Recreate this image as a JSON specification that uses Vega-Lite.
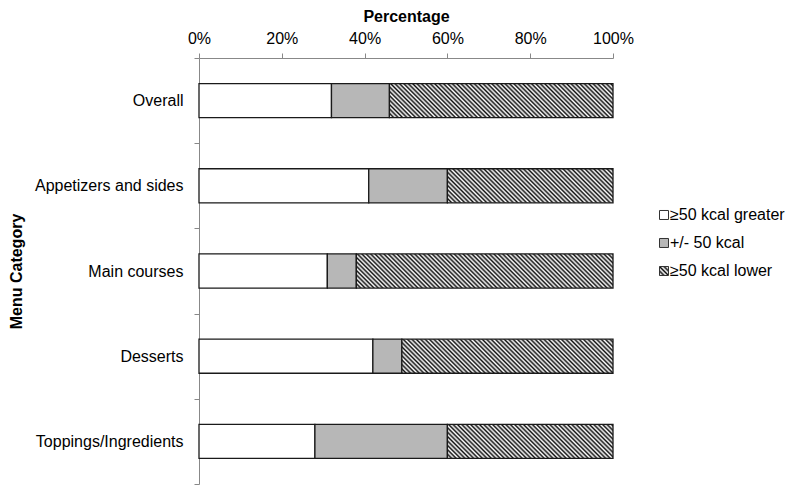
{
"$schema": "https://vega.github.io/schema/vega-lite/v6.json",
"padding": {"left": 8, "top": 8, "right": 0, "bottom": 0},
"background": "white",
"spacing": 20,
"config": {"font": "Liberation Sans", "view": {"stroke": null}},
"datasets": {
"bars": [
{"Category": "Overall", "Type": "≥50 kcal greater", "Seg": 1, "Pct": 32},
{"Category": "Overall", "Type": "+/- 50 kcal", "Seg": 2, "Pct": 14},
{"Category": "Overall", "Type": "≥50 kcal lower", "Seg": 3, "Pct": 54},
{"Category": "Appetizers and sides", "Type": "≥50 kcal greater", "Seg": 1, "Pct": 41},
{"Category": "Appetizers and sides", "Type": "+/- 50 kcal", "Seg": 2, "Pct": 19},
{"Category": "Appetizers and sides", "Type": "≥50 kcal lower", "Seg": 3, "Pct": 40},
{"Category": "Main courses", "Type": "≥50 kcal greater", "Seg": 1, "Pct": 31},
{"Category": "Main courses", "Type": "+/- 50 kcal", "Seg": 2, "Pct": 7},
{"Category": "Main courses", "Type": "≥50 kcal lower", "Seg": 3, "Pct": 62},
{"Category": "Desserts", "Type": "≥50 kcal greater", "Seg": 1, "Pct": 42},
{"Category": "Desserts", "Type": "+/- 50 kcal", "Seg": 2, "Pct": 7},
{"Category": "Desserts", "Type": "≥50 kcal lower", "Seg": 3, "Pct": 51},
{"Category": "Toppings/Ingredients", "Type": "≥50 kcal greater", "Seg": 1, "Pct": 28},
{"Category": "Toppings/Ingredients", "Type": "+/- 50 kcal", "Seg": 2, "Pct": 32},
{"Category": "Toppings/Ingredients", "Type": "≥50 kcal lower", "Seg": 3, "Pct": 40}
],
"legend": [
{"Type": "≥50 kcal greater", "Seg": 1},
{"Type": "+/- 50 kcal", "Seg": 2},
{"Type": "≥50 kcal lower", "Seg": 3}
]
},
"hconcat": [
{
"width": 414,
"height": 426,
"data": {"name": "bars"},
"mark": {"type": "bar", "stroke": "#1a1a1a", "strokeWidth": 1.3, "height": {"band": 0.4}},
"encoding": {
"y": {"field": "Category", "type": "nominal",
 "sort": ["Overall", "Appetizers and sides", "Main courses", "Desserts", "Toppings/Ingredients"],
 "scale": {"paddingInner": 0, "paddingOuter": 0},
 "axis": {"title": "Menu Category", "titleFontSize": 16, "titleFontWeight": "bold", "titleColor": "#000", "titlePadding": 10,
  "labelFontSize": 16, "labelColor": "#000", "labelPadding": 11, "tickSize": 5, "tickBand": "extent",
  "tickColor": "#888", "domainColor": "#888", "grid": false}},
"x": {"field": "Pct", "type": "quantitative", "stack": "zero", "scale": {"domain": [0, 100]},
 "axis": {"orient": "top", "title": "Percentage", "titleFontSize": 16, "titleFontWeight": "bold", "titleColor": "#000", "titlePadding": 6,
  "values": [0, 20, 40, 60, 80, 100], "labelExpr": "datum.value + '%'", "labelFontSize": 16, "labelColor": "#000",
  "labelPadding": 7, "labelFlush": false, "tickSize": 5, "tickColor": "#888", "domainColor": "#888", "grid": false}},
"order": {"field": "Seg", "type": "quantitative"},
"fill": {
 "condition": [
  {"test": "datum.Seg == 3 && datum.Category == 'Overall'", "value": {"gradient": "linear", "x1": 0, "y1": 1, "x2": 1.9235, "y2": 0.7068, "stops": [
{"offset":0,"color":"#111"},{"offset":0.005,"color":"#fff"},{"offset":0.01,"color":"#111"},{"offset":0.015,"color":"#fff"},
{"offset":0.02,"color":"#111"},{"offset":0.025,"color":"#fff"},{"offset":0.03,"color":"#111"},{"offset":0.035,"color":"#fff"},
{"offset":0.04,"color":"#111"},{"offset":0.045,"color":"#fff"},{"offset":0.05,"color":"#111"},{"offset":0.055,"color":"#fff"},
{"offset":0.06,"color":"#111"},{"offset":0.065,"color":"#fff"},{"offset":0.07,"color":"#111"},{"offset":0.075,"color":"#fff"},
{"offset":0.08,"color":"#111"},{"offset":0.085,"color":"#fff"},{"offset":0.09,"color":"#111"},{"offset":0.095,"color":"#fff"},
{"offset":0.1,"color":"#111"},{"offset":0.105,"color":"#fff"},{"offset":0.11,"color":"#111"},{"offset":0.115,"color":"#fff"},
{"offset":0.12,"color":"#111"},{"offset":0.125,"color":"#fff"},{"offset":0.13,"color":"#111"},{"offset":0.135,"color":"#fff"},
{"offset":0.14,"color":"#111"},{"offset":0.145,"color":"#fff"},{"offset":0.15,"color":"#111"},{"offset":0.155,"color":"#fff"},
{"offset":0.16,"color":"#111"},{"offset":0.165,"color":"#fff"},{"offset":0.17,"color":"#111"},{"offset":0.175,"color":"#fff"},
{"offset":0.18,"color":"#111"},{"offset":0.185,"color":"#fff"},{"offset":0.19,"color":"#111"},{"offset":0.195,"color":"#fff"},
{"offset":0.2,"color":"#111"},{"offset":0.205,"color":"#fff"},{"offset":0.21,"color":"#111"},{"offset":0.215,"color":"#fff"},
{"offset":0.22,"color":"#111"},{"offset":0.225,"color":"#fff"},{"offset":0.23,"color":"#111"},{"offset":0.235,"color":"#fff"},
{"offset":0.24,"color":"#111"},{"offset":0.245,"color":"#fff"},{"offset":0.25,"color":"#111"},{"offset":0.255,"color":"#fff"},
{"offset":0.26,"color":"#111"},{"offset":0.265,"color":"#fff"},{"offset":0.27,"color":"#111"},{"offset":0.275,"color":"#fff"},
{"offset":0.28,"color":"#111"},{"offset":0.285,"color":"#fff"},{"offset":0.29,"color":"#111"},{"offset":0.295,"color":"#fff"},
{"offset":0.3,"color":"#111"},{"offset":0.305,"color":"#fff"},{"offset":0.31,"color":"#111"},{"offset":0.315,"color":"#fff"},
{"offset":0.32,"color":"#111"},{"offset":0.325,"color":"#fff"},{"offset":0.33,"color":"#111"},{"offset":0.335,"color":"#fff"},
{"offset":0.34,"color":"#111"},{"offset":0.345,"color":"#fff"},{"offset":0.35,"color":"#111"},{"offset":0.355,"color":"#fff"},
{"offset":0.36,"color":"#111"},{"offset":0.365,"color":"#fff"},{"offset":0.37,"color":"#111"},{"offset":0.375,"color":"#fff"},
{"offset":0.38,"color":"#111"},{"offset":0.385,"color":"#fff"},{"offset":0.39,"color":"#111"},{"offset":0.395,"color":"#fff"},
{"offset":0.4,"color":"#111"},{"offset":0.405,"color":"#fff"},{"offset":0.41,"color":"#111"},{"offset":0.415,"color":"#fff"},
{"offset":0.42,"color":"#111"},{"offset":0.425,"color":"#fff"},{"offset":0.43,"color":"#111"},{"offset":0.435,"color":"#fff"},
{"offset":0.44,"color":"#111"},{"offset":0.445,"color":"#fff"},{"offset":0.45,"color":"#111"},{"offset":0.455,"color":"#fff"},
{"offset":0.46,"color":"#111"},{"offset":0.465,"color":"#fff"},{"offset":0.47,"color":"#111"},{"offset":0.475,"color":"#fff"},
{"offset":0.48,"color":"#111"},{"offset":0.485,"color":"#fff"},{"offset":0.49,"color":"#111"},{"offset":0.495,"color":"#fff"},
{"offset":0.5,"color":"#111"},{"offset":0.505,"color":"#fff"},{"offset":0.51,"color":"#111"},{"offset":0.515,"color":"#fff"},
{"offset":0.52,"color":"#111"},{"offset":0.525,"color":"#fff"},{"offset":0.53,"color":"#111"},{"offset":0.535,"color":"#fff"},
{"offset":0.54,"color":"#111"},{"offset":0.545,"color":"#fff"},{"offset":0.55,"color":"#111"},{"offset":0.555,"color":"#fff"},
{"offset":0.56,"color":"#111"},{"offset":0.565,"color":"#fff"},{"offset":0.57,"color":"#111"},{"offset":0.575,"color":"#fff"},
{"offset":0.58,"color":"#111"},{"offset":0.585,"color":"#fff"},{"offset":0.59,"color":"#111"}]}},
  {"test": "datum.Seg == 3 && (datum.Category == 'Appetizers and sides' || datum.Category == 'Toppings/Ingredients')", "value": {"gradient": "linear", "x1": 0, "y1": 1, "x2": 2.5491, "y2": 0.4754, "stops": [
{"offset":0,"color":"#111"},{"offset":0.005,"color":"#fff"},{"offset":0.01,"color":"#111"},{"offset":0.015,"color":"#fff"},
{"offset":0.02,"color":"#111"},{"offset":0.025,"color":"#fff"},{"offset":0.03,"color":"#111"},{"offset":0.035,"color":"#fff"},
{"offset":0.04,"color":"#111"},{"offset":0.045,"color":"#fff"},{"offset":0.05,"color":"#111"},{"offset":0.055,"color":"#fff"},
{"offset":0.06,"color":"#111"},{"offset":0.065,"color":"#fff"},{"offset":0.07,"color":"#111"},{"offset":0.075,"color":"#fff"},
{"offset":0.08,"color":"#111"},{"offset":0.085,"color":"#fff"},{"offset":0.09,"color":"#111"},{"offset":0.095,"color":"#fff"},
{"offset":0.1,"color":"#111"},{"offset":0.105,"color":"#fff"},{"offset":0.11,"color":"#111"},{"offset":0.115,"color":"#fff"},
{"offset":0.12,"color":"#111"},{"offset":0.125,"color":"#fff"},{"offset":0.13,"color":"#111"},{"offset":0.135,"color":"#fff"},
{"offset":0.14,"color":"#111"},{"offset":0.145,"color":"#fff"},{"offset":0.15,"color":"#111"},{"offset":0.155,"color":"#fff"},
{"offset":0.16,"color":"#111"},{"offset":0.165,"color":"#fff"},{"offset":0.17,"color":"#111"},{"offset":0.175,"color":"#fff"},
{"offset":0.18,"color":"#111"},{"offset":0.185,"color":"#fff"},{"offset":0.19,"color":"#111"},{"offset":0.195,"color":"#fff"},
{"offset":0.2,"color":"#111"},{"offset":0.205,"color":"#fff"},{"offset":0.21,"color":"#111"},{"offset":0.215,"color":"#fff"},
{"offset":0.22,"color":"#111"},{"offset":0.225,"color":"#fff"},{"offset":0.23,"color":"#111"},{"offset":0.235,"color":"#fff"},
{"offset":0.24,"color":"#111"},{"offset":0.245,"color":"#fff"},{"offset":0.25,"color":"#111"},{"offset":0.255,"color":"#fff"},
{"offset":0.26,"color":"#111"},{"offset":0.265,"color":"#fff"},{"offset":0.27,"color":"#111"},{"offset":0.275,"color":"#fff"},
{"offset":0.28,"color":"#111"},{"offset":0.285,"color":"#fff"},{"offset":0.29,"color":"#111"},{"offset":0.295,"color":"#fff"},
{"offset":0.3,"color":"#111"},{"offset":0.305,"color":"#fff"},{"offset":0.31,"color":"#111"},{"offset":0.315,"color":"#fff"},
{"offset":0.32,"color":"#111"},{"offset":0.325,"color":"#fff"},{"offset":0.33,"color":"#111"},{"offset":0.335,"color":"#fff"},
{"offset":0.34,"color":"#111"},{"offset":0.345,"color":"#fff"},{"offset":0.35,"color":"#111"},{"offset":0.355,"color":"#fff"},
{"offset":0.36,"color":"#111"},{"offset":0.365,"color":"#fff"},{"offset":0.37,"color":"#111"},{"offset":0.375,"color":"#fff"},
{"offset":0.38,"color":"#111"},{"offset":0.385,"color":"#fff"},{"offset":0.39,"color":"#111"},{"offset":0.395,"color":"#fff"},
{"offset":0.4,"color":"#111"},{"offset":0.405,"color":"#fff"},{"offset":0.41,"color":"#111"},{"offset":0.415,"color":"#fff"},
{"offset":0.42,"color":"#111"},{"offset":0.425,"color":"#fff"},{"offset":0.43,"color":"#111"},{"offset":0.435,"color":"#fff"},
{"offset":0.44,"color":"#111"},{"offset":0.445,"color":"#fff"},{"offset":0.45,"color":"#111"},{"offset":0.455,"color":"#fff"},
{"offset":0.46,"color":"#111"}]}},
  {"test": "datum.Seg == 3 && datum.Category == 'Main courses'", "value": {"gradient": "linear", "x1": 0, "y1": 1, "x2": 1.6845, "y2": 0.7763, "stops": [
{"offset":0,"color":"#111"},{"offset":0.005,"color":"#fff"},{"offset":0.01,"color":"#111"},{"offset":0.015,"color":"#fff"},
{"offset":0.02,"color":"#111"},{"offset":0.025,"color":"#fff"},{"offset":0.03,"color":"#111"},{"offset":0.035,"color":"#fff"},
{"offset":0.04,"color":"#111"},{"offset":0.045,"color":"#fff"},{"offset":0.05,"color":"#111"},{"offset":0.055,"color":"#fff"},
{"offset":0.06,"color":"#111"},{"offset":0.065,"color":"#fff"},{"offset":0.07,"color":"#111"},{"offset":0.075,"color":"#fff"},
{"offset":0.08,"color":"#111"},{"offset":0.085,"color":"#fff"},{"offset":0.09,"color":"#111"},{"offset":0.095,"color":"#fff"},
{"offset":0.1,"color":"#111"},{"offset":0.105,"color":"#fff"},{"offset":0.11,"color":"#111"},{"offset":0.115,"color":"#fff"},
{"offset":0.12,"color":"#111"},{"offset":0.125,"color":"#fff"},{"offset":0.13,"color":"#111"},{"offset":0.135,"color":"#fff"},
{"offset":0.14,"color":"#111"},{"offset":0.145,"color":"#fff"},{"offset":0.15,"color":"#111"},{"offset":0.155,"color":"#fff"},
{"offset":0.16,"color":"#111"},{"offset":0.165,"color":"#fff"},{"offset":0.17,"color":"#111"},{"offset":0.175,"color":"#fff"},
{"offset":0.18,"color":"#111"},{"offset":0.185,"color":"#fff"},{"offset":0.19,"color":"#111"},{"offset":0.195,"color":"#fff"},
{"offset":0.2,"color":"#111"},{"offset":0.205,"color":"#fff"},{"offset":0.21,"color":"#111"},{"offset":0.215,"color":"#fff"},
{"offset":0.22,"color":"#111"},{"offset":0.225,"color":"#fff"},{"offset":0.23,"color":"#111"},{"offset":0.235,"color":"#fff"},
{"offset":0.24,"color":"#111"},{"offset":0.245,"color":"#fff"},{"offset":0.25,"color":"#111"},{"offset":0.255,"color":"#fff"},
{"offset":0.26,"color":"#111"},{"offset":0.265,"color":"#fff"},{"offset":0.27,"color":"#111"},{"offset":0.275,"color":"#fff"},
{"offset":0.28,"color":"#111"},{"offset":0.285,"color":"#fff"},{"offset":0.29,"color":"#111"},{"offset":0.295,"color":"#fff"},
{"offset":0.3,"color":"#111"},{"offset":0.305,"color":"#fff"},{"offset":0.31,"color":"#111"},{"offset":0.315,"color":"#fff"},
{"offset":0.32,"color":"#111"},{"offset":0.325,"color":"#fff"},{"offset":0.33,"color":"#111"},{"offset":0.335,"color":"#fff"},
{"offset":0.34,"color":"#111"},{"offset":0.345,"color":"#fff"},{"offset":0.35,"color":"#111"},{"offset":0.355,"color":"#fff"},
{"offset":0.36,"color":"#111"},{"offset":0.365,"color":"#fff"},{"offset":0.37,"color":"#111"},{"offset":0.375,"color":"#fff"},
{"offset":0.38,"color":"#111"},{"offset":0.385,"color":"#fff"},{"offset":0.39,"color":"#111"},{"offset":0.395,"color":"#fff"},
{"offset":0.4,"color":"#111"},{"offset":0.405,"color":"#fff"},{"offset":0.41,"color":"#111"},{"offset":0.415,"color":"#fff"},
{"offset":0.42,"color":"#111"},{"offset":0.425,"color":"#fff"},{"offset":0.43,"color":"#111"},{"offset":0.435,"color":"#fff"},
{"offset":0.44,"color":"#111"},{"offset":0.445,"color":"#fff"},{"offset":0.45,"color":"#111"},{"offset":0.455,"color":"#fff"},
{"offset":0.46,"color":"#111"},{"offset":0.465,"color":"#fff"},{"offset":0.47,"color":"#111"},{"offset":0.475,"color":"#fff"},
{"offset":0.48,"color":"#111"},{"offset":0.485,"color":"#fff"},{"offset":0.49,"color":"#111"},{"offset":0.495,"color":"#fff"},
{"offset":0.5,"color":"#111"},{"offset":0.505,"color":"#fff"},{"offset":0.51,"color":"#111"},{"offset":0.515,"color":"#fff"},
{"offset":0.52,"color":"#111"},{"offset":0.525,"color":"#fff"},{"offset":0.53,"color":"#111"},{"offset":0.535,"color":"#fff"},
{"offset":0.54,"color":"#111"},{"offset":0.545,"color":"#fff"},{"offset":0.55,"color":"#111"},{"offset":0.555,"color":"#fff"},
{"offset":0.56,"color":"#111"},{"offset":0.565,"color":"#fff"},{"offset":0.57,"color":"#111"},{"offset":0.575,"color":"#fff"},
{"offset":0.58,"color":"#111"},{"offset":0.585,"color":"#fff"},{"offset":0.59,"color":"#111"},{"offset":0.595,"color":"#fff"},
{"offset":0.6,"color":"#111"},{"offset":0.605,"color":"#fff"},{"offset":0.61,"color":"#111"},{"offset":0.615,"color":"#fff"},
{"offset":0.62,"color":"#111"},{"offset":0.625,"color":"#fff"},{"offset":0.63,"color":"#111"},{"offset":0.635,"color":"#fff"},
{"offset":0.64,"color":"#111"},{"offset":0.645,"color":"#fff"},{"offset":0.65,"color":"#111"},{"offset":0.655,"color":"#fff"},
{"offset":0.66,"color":"#111"},{"offset":0.665,"color":"#fff"},{"offset":0.67,"color":"#111"}]}},
  {"test": "datum.Seg == 3 && datum.Category == 'Desserts'", "value": {"gradient": "linear", "x1": 0, "y1": 1, "x2": 2.031, "y2": 0.6722, "stops": [
{"offset":0,"color":"#111"},{"offset":0.005,"color":"#fff"},{"offset":0.01,"color":"#111"},{"offset":0.015,"color":"#fff"},
{"offset":0.02,"color":"#111"},{"offset":0.025,"color":"#fff"},{"offset":0.03,"color":"#111"},{"offset":0.035,"color":"#fff"},
{"offset":0.04,"color":"#111"},{"offset":0.045,"color":"#fff"},{"offset":0.05,"color":"#111"},{"offset":0.055,"color":"#fff"},
{"offset":0.06,"color":"#111"},{"offset":0.065,"color":"#fff"},{"offset":0.07,"color":"#111"},{"offset":0.075,"color":"#fff"},
{"offset":0.08,"color":"#111"},{"offset":0.085,"color":"#fff"},{"offset":0.09,"color":"#111"},{"offset":0.095,"color":"#fff"},
{"offset":0.1,"color":"#111"},{"offset":0.105,"color":"#fff"},{"offset":0.11,"color":"#111"},{"offset":0.115,"color":"#fff"},
{"offset":0.12,"color":"#111"},{"offset":0.125,"color":"#fff"},{"offset":0.13,"color":"#111"},{"offset":0.135,"color":"#fff"},
{"offset":0.14,"color":"#111"},{"offset":0.145,"color":"#fff"},{"offset":0.15,"color":"#111"},{"offset":0.155,"color":"#fff"},
{"offset":0.16,"color":"#111"},{"offset":0.165,"color":"#fff"},{"offset":0.17,"color":"#111"},{"offset":0.175,"color":"#fff"},
{"offset":0.18,"color":"#111"},{"offset":0.185,"color":"#fff"},{"offset":0.19,"color":"#111"},{"offset":0.195,"color":"#fff"},
{"offset":0.2,"color":"#111"},{"offset":0.205,"color":"#fff"},{"offset":0.21,"color":"#111"},{"offset":0.215,"color":"#fff"},
{"offset":0.22,"color":"#111"},{"offset":0.225,"color":"#fff"},{"offset":0.23,"color":"#111"},{"offset":0.235,"color":"#fff"},
{"offset":0.24,"color":"#111"},{"offset":0.245,"color":"#fff"},{"offset":0.25,"color":"#111"},{"offset":0.255,"color":"#fff"},
{"offset":0.26,"color":"#111"},{"offset":0.265,"color":"#fff"},{"offset":0.27,"color":"#111"},{"offset":0.275,"color":"#fff"},
{"offset":0.28,"color":"#111"},{"offset":0.285,"color":"#fff"},{"offset":0.29,"color":"#111"},{"offset":0.295,"color":"#fff"},
{"offset":0.3,"color":"#111"},{"offset":0.305,"color":"#fff"},{"offset":0.31,"color":"#111"},{"offset":0.315,"color":"#fff"},
{"offset":0.32,"color":"#111"},{"offset":0.325,"color":"#fff"},{"offset":0.33,"color":"#111"},{"offset":0.335,"color":"#fff"},
{"offset":0.34,"color":"#111"},{"offset":0.345,"color":"#fff"},{"offset":0.35,"color":"#111"},{"offset":0.355,"color":"#fff"},
{"offset":0.36,"color":"#111"},{"offset":0.365,"color":"#fff"},{"offset":0.37,"color":"#111"},{"offset":0.375,"color":"#fff"},
{"offset":0.38,"color":"#111"},{"offset":0.385,"color":"#fff"},{"offset":0.39,"color":"#111"},{"offset":0.395,"color":"#fff"},
{"offset":0.4,"color":"#111"},{"offset":0.405,"color":"#fff"},{"offset":0.41,"color":"#111"},{"offset":0.415,"color":"#fff"},
{"offset":0.42,"color":"#111"},{"offset":0.425,"color":"#fff"},{"offset":0.43,"color":"#111"},{"offset":0.435,"color":"#fff"},
{"offset":0.44,"color":"#111"},{"offset":0.445,"color":"#fff"},{"offset":0.45,"color":"#111"},{"offset":0.455,"color":"#fff"},
{"offset":0.46,"color":"#111"},{"offset":0.465,"color":"#fff"},{"offset":0.47,"color":"#111"},{"offset":0.475,"color":"#fff"},
{"offset":0.48,"color":"#111"},{"offset":0.485,"color":"#fff"},{"offset":0.49,"color":"#111"},{"offset":0.495,"color":"#fff"},
{"offset":0.5,"color":"#111"},{"offset":0.505,"color":"#fff"},{"offset":0.51,"color":"#111"},{"offset":0.515,"color":"#fff"},
{"offset":0.52,"color":"#111"},{"offset":0.525,"color":"#fff"},{"offset":0.53,"color":"#111"},{"offset":0.535,"color":"#fff"},
{"offset":0.54,"color":"#111"},{"offset":0.545,"color":"#fff"},{"offset":0.55,"color":"#111"},{"offset":0.555,"color":"#fff"},
{"offset":0.56,"color":"#111"}]}}
 ],
 "field": "Type", "type": "nominal",
 "scale": {"domain": ["≥50 kcal greater", "+/- 50 kcal", "≥50 kcal lower"],
  "range": ["#ffffff", "#b7b7b7", "#8a8a8a"]},
 "legend": null}
}
},
{
"width": 20,
"height": 426,
"data": {"name": "legend"},
"encoding": {
 "y": {"field": "Seg", "type": "quantitative",
  "scale": {"domain": [-4.607, 10.607], "reverse": true, "nice": false, "zero": false},
  "axis": null}
},
"layer": [
 {"mark": {"type": "point", "shape": "square", "size": 81, "filled": true, "stroke": "#333", "strokeWidth": 1, "opacity": 1},
  "encoding": {"fill": {"condition": [
   {"test": "datum.Type == '≥50 kcal lower'", "value": {"gradient": "linear", "x1": 0, "y1": 1, "x2": 1, "y2": 0, "stops": [
{"offset":0,"color":"#111"},{"offset":0.125,"color":"#fff"},{"offset":0.25,"color":"#111"},{"offset":0.375,"color":"#fff"},
{"offset":0.5,"color":"#111"},{"offset":0.625,"color":"#fff"},{"offset":0.75,"color":"#111"},{"offset":0.875,"color":"#fff"},
{"offset":1,"color":"#111"}]}},
   {"test": "datum.Type == '+/- 50 kcal'", "value": "#b7b7b7"}],
   "value": "#ffffff"}}},
 {"mark": {"type": "text", "align": "left", "baseline": "middle", "dx": 6, "fontSize": 16, "color": "#000"},
  "encoding": {"text": {"field": "Type", "type": "nominal"}}}
]
}
]
}
